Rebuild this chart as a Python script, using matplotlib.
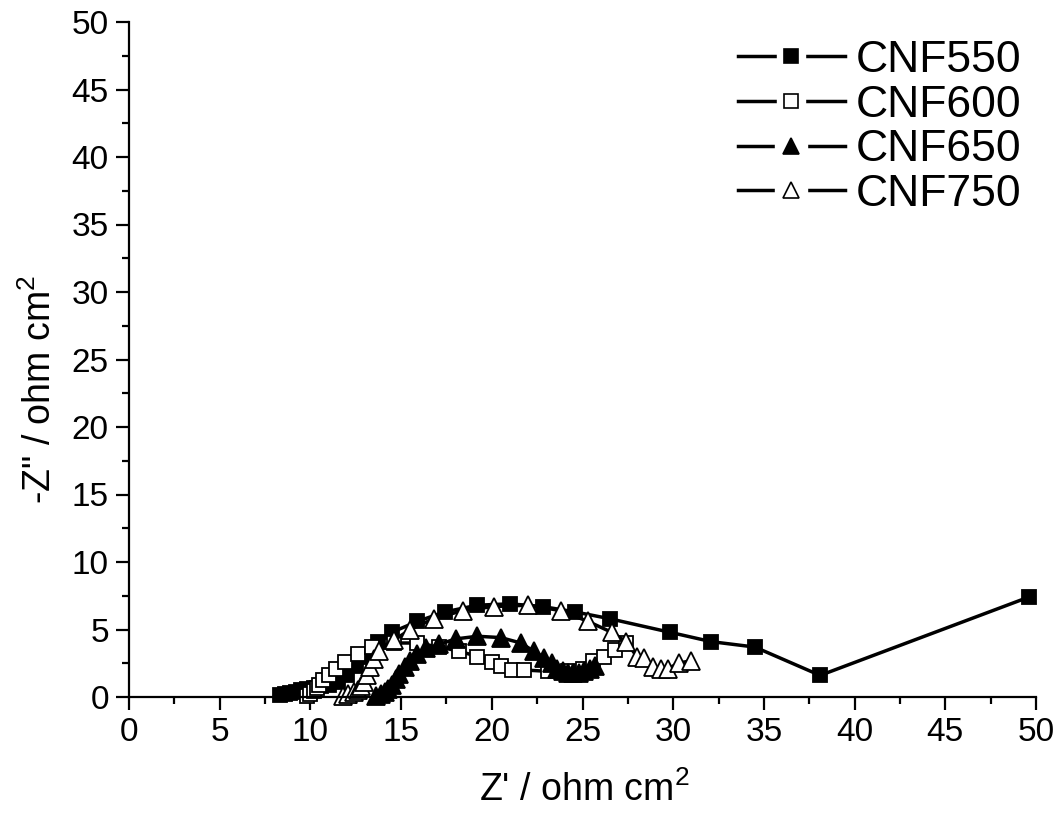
import matplotlib
matplotlib.use('Agg')
import matplotlib.pyplot as plt
from matplotlib.lines import Line2D
from matplotlib.legend_handler import HandlerTuple
from matplotlib.ticker import MultipleLocator

plt.rcParams['font.family'] = ['Liberation Sans', 'DejaVu Sans']
plt.rcParams['mathtext.fontset'] = 'custom'
plt.rcParams['mathtext.rm'] = 'Liberation Sans'

# Nyquist data (Z' , -Z'')
cnf550_x = [8.3, 8.6, 8.9, 9.2, 9.5, 9.8, 10.2, 10.6, 11.0, 11.5, 12.0, 12.5, 13.0,
            13.7, 14.5, 15.9, 17.4, 19.2, 21.0, 22.8, 24.6, 26.5, 29.8, 32.1, 34.5,
            38.1, 49.6]
cnf550_y = [0.15, 0.2, 0.3, 0.4, 0.5, 0.6, 0.7, 0.8, 0.9, 1.1, 1.6, 2.3, 3.0,
            4.1, 4.8, 5.6, 6.3, 6.8, 6.9, 6.7, 6.3, 5.8, 4.8, 4.1, 3.7,
            1.6, 7.4]

cnf600_x = [9.8, 10.0, 10.2, 10.35, 10.5, 10.7, 11.0, 11.4, 11.9, 12.6, 13.4, 14.6,
            15.9, 17.1, 18.2, 19.2, 20.0, 20.5, 21.1, 21.8, 23.1, 24.2, 25.0, 25.6,
            26.2, 26.8, 27.4]
cnf600_y = [0.1, 0.25, 0.45, 0.65, 0.9, 1.25, 1.6, 2.05, 2.6, 3.2, 3.7, 4.0,
            4.0, 3.7, 3.4, 3.0, 2.6, 2.3, 2.0, 2.0, 1.9, 1.9, 2.1, 2.7,
            3.0, 3.5, 4.0]

cnf650_x = [13.6, 13.9, 14.1, 14.3, 14.5, 14.7, 14.9, 15.2, 15.5, 15.9, 16.4, 17.1,
            18.0, 19.2, 20.5, 21.6, 22.3, 22.9, 23.3, 23.6, 23.9, 24.2, 24.5, 24.8,
            25.1, 25.4, 25.7]
cnf650_y = [0.1, 0.2, 0.4, 0.6, 0.9, 1.3, 1.7, 2.2, 2.7, 3.2, 3.6, 3.9,
            4.3, 4.5, 4.4, 4.0, 3.4, 2.9, 2.5, 2.1, 1.9, 1.8, 1.75, 1.8,
            1.9, 2.1, 2.3]

cnf750_x = [11.8, 12.1, 12.4, 12.6, 12.8, 12.95, 13.1, 13.3, 13.5, 13.8, 14.6, 15.5,
            16.8, 18.4, 20.1, 22.0, 23.8, 25.3, 26.6, 27.4, 28.0, 28.4, 28.9, 29.3,
            29.7, 30.3, 31.0]
cnf750_y = [0.1, 0.2, 0.35, 0.5, 0.8, 1.1, 1.6, 2.2, 2.8, 3.4, 4.2, 5.0,
            5.8, 6.4, 6.7, 6.8, 6.4, 5.6, 4.8, 4.1, 3.0, 2.9, 2.2, 2.1,
            2.1, 2.5, 2.7]

labels = ['CNF550', 'CNF600', 'CNF650', 'CNF750']

fig = plt.figure(figsize=(10.56, 8.25), dpi=100)
ax = fig.add_axes([129 / 1056, 128 / 825, 907 / 1056, 675 / 825])

styles = [('s', 'black', 10.5), ('s', 'white', 10.5),
          ('^', 'black', 13.5), ('^', 'white', 13.5)]
series = [(cnf550_x, cnf550_y), (cnf600_x, cnf600_y),
          (cnf650_x, cnf650_y), (cnf750_x, cnf750_y)]

handles = []
for (xs, ys), (mk, fc, ms) in zip(series, styles):
    ax.plot(xs, ys, color='black', lw=2.5, marker=mk, ms=ms, mfc=fc,
            mec='black', mew=1.3, clip_on=False)
    # legend handle: line with a white gap around the marker
    line = Line2D([], [], color='black', lw=2.5)
    gap = Line2D([], [], ls='none', marker='s', ms=ms * 0.9 + 11,
                 mfc='white', mec='white')
    mark = Line2D([], [], ls='none', marker=mk, ms=ms * 0.9, mfc=fc,
                  mec='black', mew=1.2)
    handles.append((line, gap, mark))

ax.set_xlim(0, 50)
ax.set_ylim(0, 50)
ax.xaxis.set_major_locator(MultipleLocator(5))
ax.xaxis.set_minor_locator(MultipleLocator(2.5))
ax.yaxis.set_major_locator(MultipleLocator(5))
ax.yaxis.set_minor_locator(MultipleLocator(2.5))

ax.spines['top'].set_visible(False)
ax.spines['right'].set_visible(False)
ax.spines['left'].set_linewidth(1.6)
ax.spines['bottom'].set_linewidth(1.6)

ax.tick_params(which='major', direction='out', length=9.5, width=1.6,
               labelsize=24, pad=5)
ax.tick_params(which='minor', direction='out', length=5, width=1.6)

ax.set_xlabel("Z' / ohm cm$^2$", fontsize=27)
ax.set_ylabel('-Z" / ohm cm$^2$', fontsize=27)
ax.xaxis.set_label_coords(0.502, -0.138)
ax.xaxis.label.set_va('center')
ax.yaxis.set_label_coords(-0.098, 0.456)
ax.yaxis.label.set_va('center')

ax.legend(handles, labels, handler_map={tuple: HandlerTuple(ndivide=1, pad=0)},
          loc='upper left', bbox_to_anchor=(738 / 1056, 785 / 825),
          bbox_transform=fig.transFigure, frameon=False, fontsize=32,
          handlelength=2.4, handletextpad=0.25, labelspacing=0.08,
          borderpad=0, borderaxespad=0)

fig.savefig('out.png', dpi=100)
